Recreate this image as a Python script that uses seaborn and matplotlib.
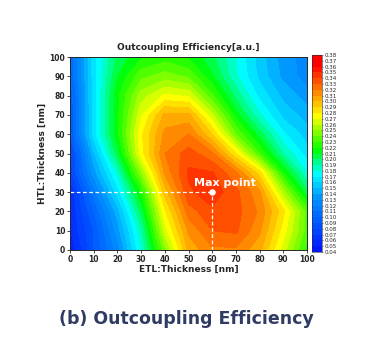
import numpy as np
import matplotlib
matplotlib.use("Agg")
import matplotlib.pyplot as plt
from matplotlib.colors import LinearSegmentedColormap
import seaborn as sns

# thickness grid (nm)
etl = [0, 10, 20, 30, 40, 50, 60, 70, 80, 90, 100]
htl = [0, 10, 20, 30, 40, 50, 60, 70, 80, 90, 100]

# outcoupling efficiency, one row per HTL thickness
eff_h0 = [0.050, 0.090, 0.125, 0.180, 0.245, 0.303, 0.318, 0.318, 0.303, 0.265, 0.225]
eff_h10 = [0.060, 0.090, 0.135, 0.187, 0.265, 0.312, 0.330, 0.332, 0.312, 0.275, 0.235]
eff_h20 = [0.060, 0.100, 0.145, 0.203, 0.278, 0.325, 0.338, 0.334, 0.318, 0.283, 0.235]
eff_h30 = [0.060, 0.115, 0.165, 0.220, 0.295, 0.338, 0.346, 0.333, 0.312, 0.255, 0.203]
eff_h40 = [0.075, 0.135, 0.182, 0.248, 0.312, 0.342, 0.341, 0.322, 0.285, 0.220, 0.180]
eff_h50 = [0.075, 0.148, 0.205, 0.275, 0.320, 0.335, 0.322, 0.280, 0.230, 0.190, 0.165]
eff_h60 = [0.090, 0.165, 0.217, 0.278, 0.313, 0.320, 0.290, 0.240, 0.205, 0.172, 0.155]
eff_h70 = [0.090, 0.165, 0.217, 0.268, 0.303, 0.303, 0.262, 0.215, 0.182, 0.157, 0.145]
eff_h80 = [0.092, 0.165, 0.217, 0.255, 0.272, 0.268, 0.232, 0.197, 0.167, 0.147, 0.135]
eff_h90 = [0.100, 0.165, 0.210, 0.237, 0.245, 0.238, 0.212, 0.182, 0.157, 0.137, 0.125]
eff_h100 = [0.100, 0.165, 0.203, 0.218, 0.225, 0.218, 0.203, 0.180, 0.155, 0.135, 0.125]

max_etl, max_htl = 60, 30

Z = np.array([eff_h0, eff_h10, eff_h20, eff_h30, eff_h40, eff_h50,
              eff_h60, eff_h70, eff_h80, eff_h90, eff_h100])

sns.set_theme(style="ticks")
plt.rcParams['font.family'] = ['DejaVu Sans']

cmap = LinearSegmentedColormap.from_list(
    "oc", [(0.0, "#0010ff"), (0.28, "#0099ff"), (0.40, "#00ffff"),
           (0.52, "#00ff00"), (0.69, "#ffff00"), (0.81, "#ff8c00"),
           (0.95, "#ff0000"), (1.0, "#ff0000")])
levels = np.round(np.arange(0.04, 0.385, 0.01), 2)

fig = plt.figure(figsize=(3.73, 3.60), dpi=100)
ax = fig.add_axes([0.188, 0.3056, 0.635, 0.536])
cax = fig.add_axes([0.836, 0.30, 0.027, 0.547])

cs = ax.contourf(etl, htl, Z, levels=levels, cmap=cmap)

# guide lines to the maximum
ax.plot([0, max_etl], [max_htl, max_htl], color="white", lw=0.9, ls=(0, (3, 2)))
ax.plot([max_etl, max_etl], [0, max_htl], color="white", lw=0.9, ls=(0, (3, 2)))
sns.scatterplot(x=[max_etl], y=[max_htl], ax=ax, color="white", s=18,
                edgecolor="white", zorder=5)
ax.text(52.5, 33, "Max point", color="white", fontsize=8, fontweight="bold",
        ha="left", va="baseline")

ax.set_xlim(0, 100)
ax.set_ylim(0, 100)
ax.set_xticks(range(0, 101, 10))
ax.set_yticks(range(0, 101, 10))
ax.tick_params(labelsize=5.5, length=2, width=0.6, pad=1.5)
for lab in ax.get_xticklabels() + ax.get_yticklabels():
    lab.set_fontweight("bold")
ax.set_xlabel("ETL:Thickness [nm]", fontsize=6.5, fontweight="bold", labelpad=1)
ax.set_ylabel("HTL:Thickness [nm]", fontsize=6.5, fontweight="bold", labelpad=2)
ax.set_title("Outcoupling Efficiency[a.u.]", fontsize=6.5, fontweight="bold", pad=5)
for s in ax.spines.values():
    s.set_linewidth(0.7)

cb = fig.colorbar(cs, cax=cax, ticks=levels)
cb.ax.set_yticklabels([f"{v:.2f}" for v in levels])
cb.ax.tick_params(labelsize=4, length=1, width=0.4, pad=1)
cb.outline.set_linewidth(0.4)

fig.text(0.5, 0.115, "(b) Outcoupling Efficiency", ha="center", va="center",
         fontsize=12.5, color="#2f3b63", fontweight="semibold")

fig.savefig("out.png", dpi=100)
